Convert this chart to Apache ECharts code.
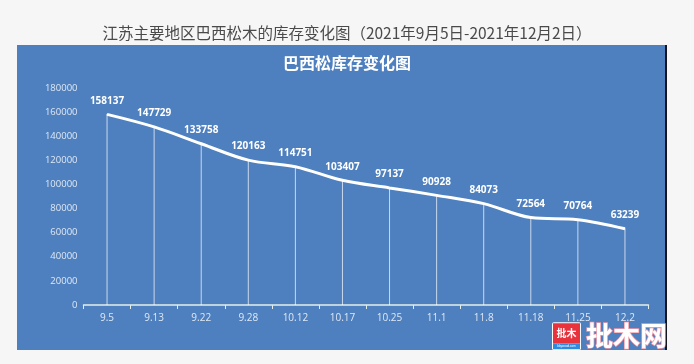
<!DOCTYPE html>
<html><head><meta charset="utf-8">
<script src="https://cdn.jsdelivr.net/npm/echarts@6/dist/echarts.min.js"></script>
<style>html,body{margin:0;padding:0;background:#f6f6f6}#c{width:694px;height:364px}</style>
</head><body><div id="c"></div>
<script>
const categories = ['9.5','9.13','9.22','9.28','10.12','10.17','10.25','11.1','11.8','11.18','11.25','12.2'];
const stockValues = [158137,147729,133758,120163,114751,103407,97137,90928,84073,72564,70764,63239];
const yTicks = {min:0, max:180000, interval:20000};

const chart = echarts.init(document.getElementById('c'), null, {renderer:'canvas'});
const lblColor = '#dfe8f4';
chart.setOption({
  backgroundColor:'#f6f6f6',
  animation:false,
  graphic:[
    {type:'rect', z:-10, shape:{x:17,y:45,width:649,height:305}, style:{fill:'#4e7fbe'}},
    {type:'rect', z:-9, shape:{x:665,y:45,width:2,height:305}, style:{fill:'#14161f'}},
    {type:'group', left:552, top:321, children:[
      {type:'rect', shape:{x:0,y:0,width:29,height:28,r:2}, style:{fill:'#ffffff'}},
      {type:'rect', shape:{x:1,y:1,width:27,height:20}, style:{fill:'#e8323c'}},
      {type:'rect', shape:{x:1,y:21,width:27,height:6}, style:{fill:'#2f8be0'}},
      {type:'text', style:{x:14.5,y:11,text:'批木',fill:'#fff',font:'bold 10px "Noto Sans CJK SC"',align:'center',verticalAlign:'middle'}},
      {type:'text', style:{x:14.5,y:24,text:'bbywood.com',fill:'#fff',font:'3px sans-serif',align:'center',verticalAlign:'middle'}},
      {type:'text', style:{x:34,y:13,text:'批木网',fill:'#ffffff',stroke:'#f09aa6',lineWidth:1.5,font:'bold 27px "Noto Sans CJK SC"',align:'left',verticalAlign:'middle'}}
    ]}
  ],
  title:[
    {text:'江苏主要地区巴西松木的库存变化图（2021年9月5日-2021年12月2日）', left:'center', top:20,
     textStyle:{fontFamily:'"Noto Sans CJK SC"', fontWeight:'normal', fontSize:15.5, color:'#4a4a4a'}},
    {text:'巴西松库存变化图', left:'center', top:50,
     textStyle:{fontFamily:'"Noto Sans CJK SC"', fontWeight:'bold', fontSize:16, color:'#ffffff'}}
  ],
  grid:{left:83.5, right:45.5, top:88, bottom:59, containLabel:false},
  xAxis:{
    type:'category', data:categories, boundaryGap:true,
    axisLine:{lineStyle:{color:'#e2efe8', width:1.5}},
    axisTick:{show:true, length:4, lineStyle:{color:'#e2efe8'}},
    axisLabel:{color:lblColor, fontSize:10, margin:8, fontFamily:'"Open Sans"'}
  },
  yAxis:{
    type:'value', min:yTicks.min, max:yTicks.max, interval:yTicks.interval,
    axisLine:{show:false}, axisTick:{show:false}, splitLine:{show:false},
    axisLabel:{color:lblColor, fontSize:9.5, margin:6, fontFamily:'"Open Sans"', formatter:v => String(v)}
  },
  series:[
    {type:'bar', data:stockValues, barWidth:1, barGap:'-100%', silent:true,
     itemStyle:{color:'rgba(255,255,255,0.7)'}},
    {type:'line', data:stockValues, smooth:0.35, symbol:'circle', symbolSize:1, showSymbol:true, z:5,
     itemStyle:{color:'#ffffff'},
     lineStyle:{color:'#ffffff', width:3},
     label:{show:true, position:'top', distance:8, color:'#ffffff', fontSize:10, fontFamily:'"Open Sans"', fontWeight:'bold'}}
  ]
});
</script></body></html>
